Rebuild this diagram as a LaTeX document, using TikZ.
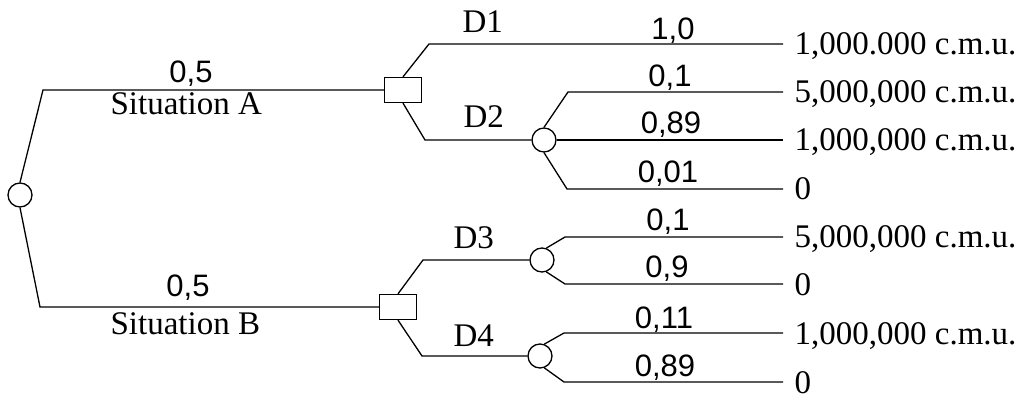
\documentclass[tikz,border=0pt]{standalone}
\usepackage{fontspec}
\setmainfont{Liberation Serif}
\newfontfamily\probfont{Liberation Sans}
\begin{document}
\begin{tikzpicture}[x=1pt, y=-1pt, line width=1.3pt,
  chance/.style={circle, draw, fill=white, minimum size=24pt, inner sep=0pt},
  decision/.style={rectangle, draw, fill=white, minimum width=37pt, minimum height=25pt, inner sep=0pt},
  prob/.style={anchor=base, inner sep=0pt, font=\probfont\fontsize{31}{31}\selectfont},
  tag/.style={anchor=base west, inner sep=0pt, font=\fontsize{33}{33}\selectfont},
  payoff/.style={anchor=base west, inner sep=0pt, xshift=11pt, yshift=-11pt, font=\fontsize{33}{33}\selectfont}]
\useasboundingbox (0,0) rectangle (1025,403);

% decision and chance nodes
\node[chance]   (root) at (20,195)  {};
\node[decision] (sa)   at (403,90)  {};
\node[decision] (sb)   at (398,307) {};
\node[chance]   (c2)   at (544,140) {};
\node[chance]   (c3)   at (542,260) {};
\node[chance]   (c4)   at (540,356) {};

% bends of the branches
\coordinate (ka)  at (43,90);
\coordinate (kb)  at (40,307);
\coordinate (k1)  at (429,44);
\coordinate (k2)  at (425,140);
\coordinate (k3)  at (423,260);
\coordinate (k4)  at (422,356);
\coordinate (k21) at (568,92);
\coordinate (k23) at (567,189);
\coordinate (k31) at (565,237);
\coordinate (k32) at (565,284);
\coordinate (k41) at (564,333);
\coordinate (k42) at (564,382);

% free ends of the outcome lines
\coordinate (e1)  at (783,44);
\coordinate (e21) at (783,92);
\coordinate (e22) at (783,140);
\coordinate (e23) at (783,189);
\coordinate (e31) at (783,237);
\coordinate (e32) at (783,284);
\coordinate (e41) at (783,333);
\coordinate (e42) at (783,382);

% branches
\draw (root.north) -- (ka) -- (sa.west);
\draw (root.south) -- (kb) -- (sb.west);
\draw (sa.north) -- (k1) -- (e1);
\draw (sa.south) -- (k2) -- (c2.west);
\draw (sb.north) -- (k3) -- (c3.west);
\draw (sb.south) -- (k4) -- (c4.west);
\draw (c2.north) -- (k21) -- (e21);
\draw (c2.east) -- (e22);
\draw (c2.south) -- (k23) -- (e23);
\draw (c3.70) -- (k31) -- (e31);
\draw (c3.-70) -- (k32) -- (e32);
\draw (c4.70) -- (k41) -- (e41);
\draw (c4.-70) -- (k42) -- (e42);

% situation labels
\node[prob] (pa) at (191,83)  {0,5};
\node[prob] (pb) at (188,297) {0,5};
\node[tag] (sita) at (110,115) {Situation A};
\node[tag] (sitb) at (110,334) {Situation B};

% decision labels
\node[tag] (d1) at (462,33)  {D1};
\node[tag] (d2) at (463,128) {D2};
\node[tag] (d3) at (453,249) {D3};
\node[tag] (d4) at (453,346) {D4};

% probabilities
\node[prob] (p1)  at (673,40)  {1,0};
\node[prob] (p21) at (670,87)  {0,1};
\node[prob] (p22) at (671,134) {0,89};
\node[prob] (p23) at (668,183) {0,01};
\node[prob] (p31) at (668,231) {0,1};
\node[prob] (p32) at (667,278) {0,9};
\node[prob] (p41) at (664,328) {0,11};
\node[prob] (p42) at (665,376) {0,89};

% payoffs
\node[payoff] (v1)  at (e1)  {1,000.000 c.m.u.};
\node[payoff] (v21) at (e21) {5,000,000 c.m.u.};
\node[payoff] (v22) at (e22) {1,000,000 c.m.u.};
\node[payoff] (v23) at (e23) {0};
\node[payoff] (v31) at (e31) {5,000,000 c.m.u.};
\node[payoff] (v32) at (e32) {0};
\node[payoff] (v41) at (e41) {1,000,000 c.m.u.};
\node[payoff] (v42) at (e42) {0};
\end{tikzpicture}
\end{document}
